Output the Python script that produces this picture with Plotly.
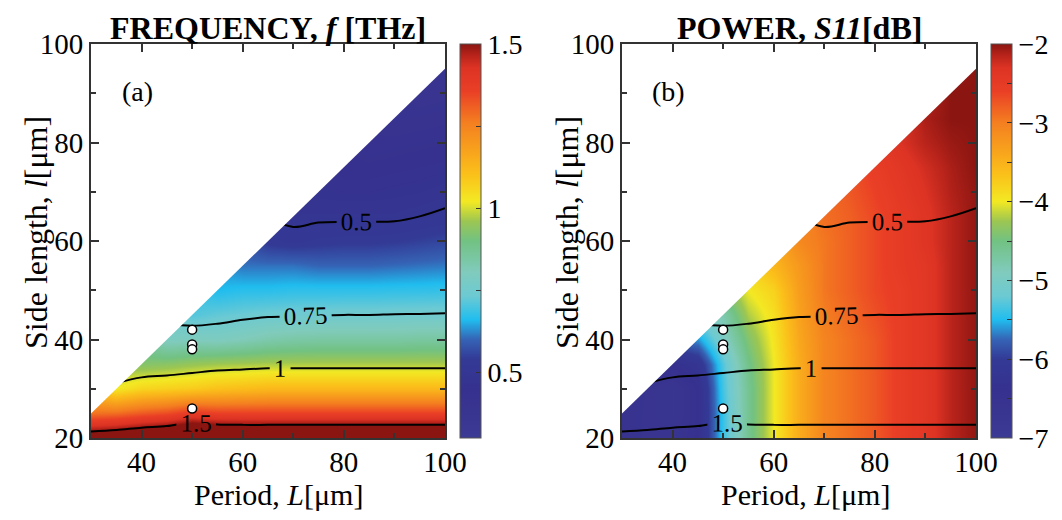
import plotly.graph_objects as go

# ---------------- data ----------------
L_vals = [30, 35, 40, 45, 50, 55, 60, 65, 70, 75, 80, 85, 90, 95, 100]   # Period L [um]
l_vals = [20, 25, 30, 35, 40, 45, 50, 55, 60, 65, 70, 75, 80, 85, 90, 95]  # Side length l [um]
OFFSET = 5  # designs exist only for l <= L - OFFSET
N = None

# resonance frequency f [THz]; rows = l, columns = L
freq = [
    [1.58, 1.60, 1.63, 1.65, 1.70, 1.67, 1.66, 1.66, 1.66, 1.66, 1.66, 1.66, 1.66, 1.66, 1.66],
    [1.28, 1.29, 1.32, 1.34, 1.38, 1.36, 1.36, 1.36, 1.36, 1.36, 1.36, 1.36, 1.36, 1.36, 1.36],
    [N, 1.02, 1.06, 1.07, 1.08, 1.10, 1.11, 1.12, 1.12, 1.12, 1.12, 1.12, 1.12, 1.12, 1.12],
    [N, N, 0.93, 0.94, 0.955, 0.965, 0.97, 0.975, 0.975, 0.975, 0.975, 0.975, 0.975, 0.975, 0.975],
    [N, N, N, 0.79, 0.80, 0.795, 0.81, 0.83, 0.84, 0.845, 0.845, 0.845, 0.845, 0.85, 0.85],
    [N, N, N, N, 0.71, 0.725, 0.735, 0.742, 0.745, 0.748, 0.75, 0.75, 0.752, 0.753, 0.755],
    [N, N, N, N, N, 0.66, 0.67, 0.67, 0.675, 0.675, 0.675, 0.675, 0.677, 0.678, 0.68],
    [N, N, N, N, N, N, 0.61, 0.61, 0.61, 0.60, 0.60, 0.60, 0.605, 0.61, 0.615],
    [N, N, N, N, N, N, N, 0.53, 0.52, 0.53, 0.535, 0.535, 0.54, 0.55, 0.56],
    [N, N, N, N, N, N, N, N, 0.485, 0.49, 0.49, 0.49, 0.49, 0.50, 0.51],
    [N, N, N, N, N, N, N, N, N, 0.465, 0.46, 0.46, 0.465, 0.47, 0.48],
    [N, N, N, N, N, N, N, N, N, N, 0.44, 0.44, 0.445, 0.45, 0.455],
    [N, N, N, N, N, N, N, N, N, N, N, 0.42, 0.425, 0.43, 0.435],
    [N, N, N, N, N, N, N, N, N, N, N, N, 0.405, 0.41, 0.415],
    [N, N, N, N, N, N, N, N, N, N, N, N, N, 0.39, 0.395],
    [N, N, N, N, N, N, N, N, N, N, N, N, N, N, 0.38],
]

# reflected power S11 [dB]; rows = l, columns = L
power = [
    [-6.5, -6.6, -6.6, -6.4, -5.4, -4.6, -4.0, -3.45, -3.05, -2.9, -2.75, -2.55, -2.4, -2.15, -2.02],
    [-6.5, -6.6, -6.7, -6.4, -5.4, -4.6, -4.0, -3.45, -3.05, -2.9, -2.75, -2.55, -2.4, -2.15, -2.02],
    [N, -6.6, -6.7, -6.4, -5.35, -4.6, -4.0, -3.45, -3.05, -2.9, -2.75, -2.55, -2.4, -2.15, -2.02],
    [N, N, -6.4, -6.2, -5.3, -4.55, -4.0, -3.45, -3.05, -2.9, -2.75, -2.55, -2.4, -2.15, -2.02],
    [N, N, N, -5.6, -5.0, -4.4, -3.95, -3.4, -3.05, -2.9, -2.75, -2.55, -2.4, -2.15, -2.02],
    [N, N, N, N, -4.8, -4.2, -3.9, -3.35, -3.0, -2.85, -2.7, -2.55, -2.4, -2.15, -2.02],
    [N, N, N, N, N, -4.0, -3.8, -3.3, -2.95, -2.8, -2.65, -2.55, -2.4, -2.15, -2.02],
    [N, N, N, N, N, N, -3.55, -3.25, -2.95, -2.8, -2.65, -2.5, -2.4, -2.15, -2.02],
    [N, N, N, N, N, N, N, -3.1, -2.95, -2.8, -2.65, -2.5, -2.35, -2.15, -2.02],
    [N, N, N, N, N, N, N, N, -2.9, -2.8, -2.65, -2.5, -2.35, -2.15, -2.02],
    [N, N, N, N, N, N, N, N, N, -2.75, -2.6, -2.45, -2.3, -2.12, -2.02],
    [N, N, N, N, N, N, N, N, N, N, -2.55, -2.4, -2.25, -2.1, -2.0],
    [N, N, N, N, N, N, N, N, N, N, N, -2.3, -2.15, -2.05, -2.0],
    [N, N, N, N, N, N, N, N, N, N, N, N, -2.1, -2.0, -2.0],
    [N, N, N, N, N, N, N, N, N, N, N, N, N, -2.0, -2.0],
    [N, N, N, N, N, N, N, N, N, N, N, N, N, N, -2.0],
]

# frequency iso-lines drawn on both panels
f_levels = [0.5, 0.75, 1.0, 1.5]

# highlighted designs
pts_L = [50, 50, 50, 50]
pts_l = [42, 39, 38, 26]

# axis / colorbar settings
X_RANGE = [30, 100]
Y_RANGE = [20, 100]
F_RANGE = [0.3, 1.5]
P_RANGE = [-7, -2]
f_ticks = [0.5, 0.75, 1.0, 1.25, 1.5]
f_ticktext = ["0.5", "", "1", "", "1.5"]
p_ticks = [-7, -6.5, -6, -5.5, -5, -4.5, -4, -3.5, -3, -2.5, -2]
p_ticktext = ["\u2212%d" % (-v) if float(v).is_integer() else "" for v in p_ticks]

# ---------------- styling ----------------
FONT = "Liberation Serif"
PAGE_W, PAGE_H = 1062, 520
BODY = 8                       # default page margin around the figure
W, H = PAGE_W - 2 * BODY, PAGE_H - 2 * BODY


def px_x(v):   # page pixel -> paper fraction
    return (v - BODY) / W


def px_y(v):
    return 1 - (v - BODY) / H


colorscale = [
    [0.00, "#3b3a94"], [0.12, "#36318e"], [0.20, "#333a96"], [0.25, "#3563b5"],
    [0.30, "#20bdef"], [0.36, "#6ccad3"], [0.42, "#80cbbd"], [0.50, "#72c283"],
    [0.55, "#9cc652"], [0.60, "#f3e923"], [0.67, "#fbc01a"], [0.80, "#f47f20"],
    [0.88, "#ea3f26"], [0.94, "#dc3324"], [0.97, "#b9241b"], [1.00, "#8b1511"],
]


def first_visible_col(level):
    """First L column (minus one) whose top visible cell lies below the level."""
    for j, L in enumerate(L_vals):
        top = freq[l_vals.index(L - OFFSET)][j]
        if top is not None and top < level:
            return max(j - 1, 0)
    return 0


panels = [
    dict(xd=[px_x(91), px_x(445)], cbx=px_x(460), z=freq, rng=F_RANGE, tv=f_ticks, tt=f_ticktext,
         title="<b>FREQUENCY, <i>f</i> [THz]</b>", tag="(a)", xs=10),
    dict(xd=[px_x(622), px_x(976)], cbx=px_x(991), z=power, rng=P_RANGE, tv=p_ticks, tt=p_ticktext,
         title="<b>POWER, <i>S11</i>[dB]</b>", tag="(b)", xs=6),
]
yd = [px_y(438), px_y(44)]

fig = go.Figure()
layout = dict(width=W, height=H, margin=dict(l=0, r=0, t=0, b=0, autoexpand=False),
              paper_bgcolor="white", plot_bgcolor="white", showlegend=False,
              font=dict(family=FONT, size=28, color="black"), annotations=[])

for i, p in enumerate(panels):
    sfx = "" if i == 0 else str(i + 1)
    xa, ya = "x" + sfx, "y" + sfx
    fig.add_trace(go.Heatmap(
        x=L_vals, y=l_vals, z=p["z"], zmin=p["rng"][0], zmax=p["rng"][1],
        colorscale=colorscale, zsmooth="best", connectgaps=True, hoverinfo="skip",
        xaxis=xa, yaxis=ya,
        colorbar=dict(x=p["cbx"], xanchor="left", y=yd[0], yanchor="bottom",
                      len=394, lenmode="pixels", thickness=21, thicknessmode="pixels",
                      outlinewidth=1, outlinecolor="#555", xpad=0, ypad=0,
                      tickvals=p["tv"], ticktext=p["tt"], ticks="inside", ticklen=5,
                      tickcolor="#333", tickwidth=1,
                      tickfont=dict(family=FONT, size=28, color="black")),
    ))
    for lev in f_levels:
        s = first_visible_col(lev)
        fig.add_trace(go.Contour(
            x=L_vals[s:], y=l_vals, z=[row[s:] for row in freq],
            showscale=False, hoverinfo="skip", autocontour=False,
            contours=dict(coloring="none", start=lev, end=lev, size=1,
                          showlabels=True, labelformat=".3~g",
                          labelfont=dict(family=FONT, size=25, color="black")),
            line=dict(color="black", width=2), xaxis=xa, yaxis=ya,
        ))
    # blank region where l > L - OFFSET
    fig.add_trace(go.Scatter(
        x=[L_vals[0], L_vals[0], L_vals[-1], L_vals[-1], L_vals[0]],
        y=[L_vals[0] - OFFSET, Y_RANGE[1], Y_RANGE[1], L_vals[-1] - OFFSET, L_vals[0] - OFFSET],
        mode="lines", fill="toself", fillcolor="white", line=dict(width=0, color="white"),
        hoverinfo="skip", xaxis=xa, yaxis=ya,
    ))
    fig.add_trace(go.Scatter(
        x=pts_L, y=pts_l, mode="markers", hoverinfo="skip",
        marker=dict(size=9, color="white", line=dict(color="black", width=1.5)),
        xaxis=xa, yaxis=ya,
    ))
    common = dict(showline=True, linewidth=2, linecolor="#333", mirror="ticks",
                  ticks="inside", ticklen=8, tickwidth=1.5, tickcolor="#333",
                  showgrid=False, zeroline=False, automargin=False,
                  tickfont=dict(family=FONT, size=29, color="black"),
                  minor=dict(ticks="inside", ticklen=5, tickwidth=1.5, tickcolor="#333", dtick=10))
    layout["xaxis" + sfx] = dict(common, domain=p["xd"], range=X_RANGE, anchor=ya,
                                 tick0=0, dtick=20, ticklabelstandoff=-3)
    layout["yaxis" + sfx] = dict(common, domain=yd, range=Y_RANGE, anchor=xa,
                                 tick0=0, dtick=20)
    # panel title
    layout["annotations"].append(dict(
        text=p["title"], xref=xa + " domain", yref="paper", x=0.5, y=px_y(28),
        xanchor="center", yanchor="middle", showarrow=False,
        font=dict(family=FONT, size=32, color="black")))
    # axis titles
    layout["annotations"].append(dict(
        text="Period, <i>L</i>[\u03bcm]", xref=xa + " domain", yref="paper", x=0.5, y=0,
        xanchor="center", yanchor="bottom", xshift=p["xs"], yshift=0, borderpad=0,
        showarrow=False, font=dict(family=FONT, size=30, color="black")))
    layout["annotations"].append(dict(
        text="Side length, <i>l</i>[\u03bcm]", xref="paper", yref=ya + " domain",
        x=(p["xd"][0] - px_x(91) + px_x(36)), y=0.5, yshift=8, textangle=-90,
        xanchor="center", yanchor="middle", showarrow=False,
        font=dict(family=FONT, size=32, color="black")))
    # panel tag
    layout["annotations"].append(dict(
        text=p["tag"], xref=xa + " domain", yref=ya + " domain", x=0.13, y=0.88,
        xanchor="center", yanchor="middle", showarrow=False,
        font=dict(family=FONT, size=28, color="black")))

fig.update_layout(**layout)
fig.write_html("out.html")
